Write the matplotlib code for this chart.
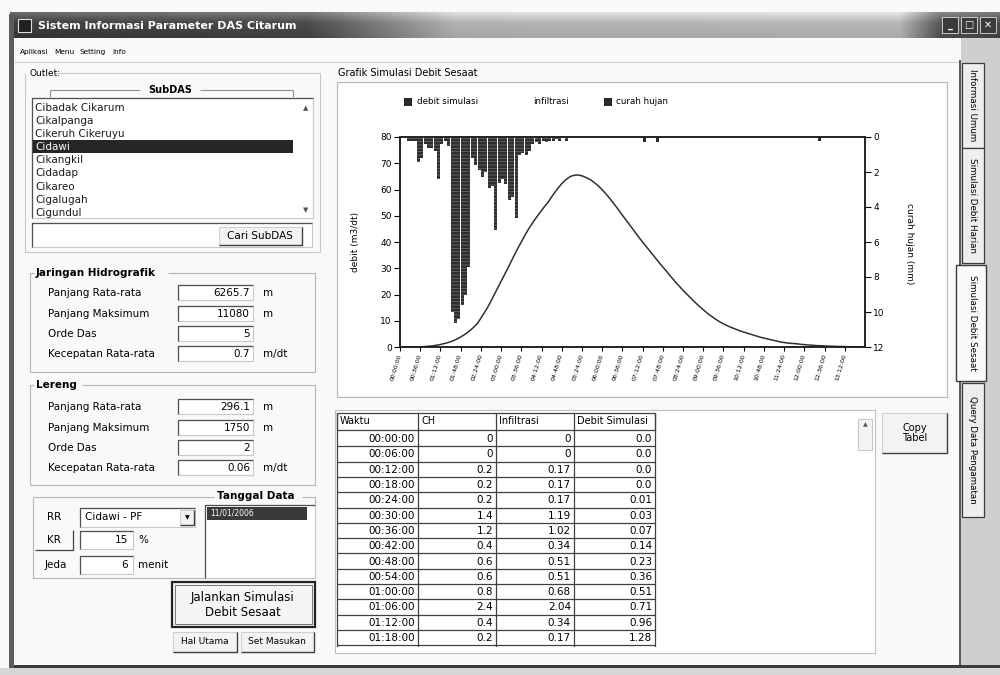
import numpy as np
import matplotlib
matplotlib.use("Agg")
import matplotlib.pyplot as plt
from matplotlib.patches import Rectangle

plt.rcParams["font.family"] = "DejaVu Sans"
W, H = 1000, 675

# ---- chart data: one value per 6-minute step ----
debit = [0.0, 0.0, 0.0, 0.0, 0.01, 0.03, 0.07, 0.14, 0.23, 0.36, 0.51, 0.71, 0.96, 1.28,
         1.6, 2.0, 2.5, 3.1, 3.8, 4.6, 5.5,
         6.5, 7.7, 9.0, 11.0, 13.0, 15.1, 17.5, 20.0, 22.5,
         25.0, 27.5, 30.0, 32.6, 35.2, 37.7, 40.0, 42.4, 44.6,
         46.6, 48.5, 50.3, 52.0, 53.7, 55.2,
         57.2, 59.0, 60.7, 62.2, 63.5, 64.5, 65.2, 65.5, 65.5, 65.2, 64.7,
         64.1, 63.3, 62.3, 61.2, 59.9, 58.5, 57.0, 55.4, 53.7, 52.0, 50.2,
         48.5, 46.8, 45.1, 43.3, 41.6, 40.0, 38.4, 36.8, 35.2, 33.6, 32.0,
         30.5, 29.0, 27.4, 25.9, 24.4, 23.0, 21.6, 20.3, 19.0, 17.7, 16.5,
         15.3, 14.2, 13.1, 12.1, 11.2, 10.3, 9.5, 8.8, 8.2, 7.6, 7.1,
         6.6, 6.1, 5.7, 5.3, 4.9, 4.5, 4.1, 3.7, 3.4, 3.1, 2.8,
         2.5, 2.2, 1.9, 1.7, 1.5, 1.4, 1.3, 1.2, 1.0, 0.9, 0.8,
         0.7, 0.6, 0.5, 0.5, 0.4, 0.35, 0.3, 0.25, 0.2, 0.2, 0.15, 0.1, 0.1, 0.1, 0.05, 0.05]

rain_mm = [0, 0, 0.2, 0.2, 0.2, 1.4, 1.2, 0.4, 0.6, 0.6, 0.8, 2.4, 0.4, 0.2,
           0.5, 10.0, 10.6, 10.4, 9.6, 9.0, 7.4,
           1.2, 1.6, 1.9, 2.3, 2.0, 2.9, 2.8, 5.3, 2.6,
           2.4, 2.7, 3.6, 3.4, 4.6, 1.0, 0.9, 1.0, 0.8, 0.4,
           0.3, 0.4, 0.2, 0.3, 0.2, 0.2, 0.1, 0.2, 0, 0.2]
late_rain_step = [72, 76, 124]
late_rain_mm = [0.3, 0.3, 0.2]

tick_labels = ["00:00:00", "00:36:00", "01:12:00", "01:48:00", "02:24:00", "03:00:00",
               "03:36:00", "04:12:00", "04:48:00", "05:24:00", "06:00:00", "06:36:00",
               "07:12:00", "07:48:00", "08:24:00", "09:00:00", "09:36:00", "10:12:00",
               "10:48:00", "11:24:00", "12:00:00", "12:36:00", "13:12:00"]

# ---- table ----
waktu = ["00:00:00", "00:06:00", "00:12:00", "00:18:00", "00:24:00", "00:30:00", "00:36:00",
         "00:42:00", "00:48:00", "00:54:00", "01:00:00", "01:06:00", "01:12:00", "01:18:00"]
ch = ["0", "0", "0.2", "0.2", "0.2", "1.4", "1.2", "0.4", "0.6", "0.6", "0.8", "2.4", "0.4", "0.2"]
infil = ["0", "0", "0.17", "0.17", "0.17", "1.19", "1.02", "0.34", "0.51", "0.51", "0.68",
         "2.04", "0.34", "0.17"]
debit_tab = ["0.0", "0.0", "0.0", "0.0", "0.01", "0.03", "0.07", "0.14", "0.23", "0.36",
             "0.51", "0.71", "0.96", "1.28"]

# ---- left panel ----
subdas = ["Cibadak Cikarum", "Cikalpanga", "Cikeruh Cikeruyu", "Cidawi", "Cikangkil",
          "Cidadap", "Cikareo", "Cigalugah", "Cigundul"]
param_labels = ["Panjang Rata-rata", "Panjang Maksimum", "Orde Das", "Kecepatan Rata-rata"]
jar_values = ["6265.7", "11080", "5", "0.7"]
ler_values = ["296.1", "1750", "2", "0.06"]
units = ["m", "m", "", "m/dt"]
tabs = ["Informasi Umum", "Simulasi Debit Harian", "Simulasi Debit Sesaat",
        "Query Data Pengamatan"]
menu = ["Aplikasi", "Menu", "Setting", "Info"]

fig = plt.figure(figsize=(10, 6.75), dpi=100)
fig.patch.set_facecolor("#f9f9f9")
g = fig.add_axes([0, 0, 1, 1])
g.set_xlim(0, W); g.set_ylim(H, 0); g.axis("off")


def rect(x0, y0, x1, y1, fc="none", ec="none", lw=0.8, z=1):
    g.add_patch(Rectangle((x0, y0), x1 - x0, y1 - y0, fc=fc, ec=ec, lw=lw, zorder=z))


def line(xs, ys, c="#b4b4b4", lw=0.8, z=2):
    g.plot(xs, ys, color=c, lw=lw, zorder=z, solid_capstyle="butt")


def text(x, y, s, size=7.5, ha="left", va="center", **kw):
    g.text(x, y, s, fontsize=size, ha=ha, va=va, zorder=5, **kw)


def sunken(x0, y0, x1, y1):
    rect(x0, y0, x1, y1, fc="white", ec="#c8c8c8", z=2)
    line([x0, x0, x1], [y1, y0, y0], c="#505050", lw=0.9, z=3)


def raised(x0, y0, x1, y1, fc="#f3f3f3"):
    rect(x0, y0, x1, y1, fc=fc, ec="#d0d0d0", z=2)
    line([x0, x1, x1], [y1, y1, y0], c="#404040", lw=1.0, z=3)


# window chrome
rect(961, 38, 1000, 668, fc="#cfcfcf", z=0)
rect(10, 665, 1000, 668, fc="#3c3c3c", z=3)
rect(0, 668, 1000, 675, fc="#d6d6d6", z=0)
rect(9, 14, 14, 668, fc="#5c5c5c", z=3)
prof = np.interp(np.linspace(0, 1, 400), [0, 0.3, 0.45, 0.9, 0.94, 1], [0.25, 0.3, 0.7, 0.72, 0.35, 0.3])
vert = np.interp(np.linspace(0, 1, 30), [0, 0.4, 1], [0.18, 0.0, -0.05])
grad = np.clip(prof[None, :] + vert[:, None], 0, 1)
g.imshow(grad, extent=(10, 1000, 38, 12), cmap="gray", vmin=0, vmax=1, aspect="auto", zorder=1)
rect(18, 19, 31, 32, fc="#202020", ec="#e0e0e0", lw=0.8, z=4)
text(38, 26, "Sistem Informasi Parameter DAS Citarum", size=8, color="white", weight="bold")
for bx, glyph in zip([942, 961, 980], ["_", "□", "✕"]):
    rect(bx, 17, bx + 16, 33, fc="#3a3a3a", ec="#dddddd", lw=0.6, z=4)
    text(bx + 8, 25, glyph, size=7, ha="center", color="white", weight="bold")
for mx, m in zip([20, 54, 80, 112], menu):
    text(mx, 52, m, size=5.3)
line([14, 960], [62, 62], c="#d0d0d0")
line([960, 960], [60, 665], c="#3c3c3c", lw=1.2, z=3)

# tabs on the right
tab_y = [(63, 148), (148, 263), (265, 381), (383, 517)]
for i, (name, (t0, t1)) in enumerate(zip(tabs, tab_y)):
    if i == 2:
        rect(956, t0, 986, t1, fc="#fafafa", ec="#3c3c3c", lw=1.0, z=4)
    else:
        rect(962, t0, 984, t1, fc="#eeeeee", ec="#3c3c3c", lw=0.9, z=4)
    text(973 if i != 2 else 972, (t0 + t1) / 2, name, size=6.3, ha="center", rotation=-90)

# Outlet group + SubDAS list
text(30, 73, "Outlet:", size=6.5)
line([55, 320, 320, 25, 25], [73, 73, 252, 252, 73], c="#c8c8c8")
line([50, 50, 140], [97, 90, 90], c="#909090")
line([200, 293, 293], [90, 90, 97], c="#909090")
text(170, 90, "SubDAS", size=7, ha="center", weight="bold")
sunken(32, 98, 313, 218)
rect(33, 140, 293, 153, fc="#262626", z=3)
for i, name in enumerate(subdas):
    text(35, 108 + 13.1 * i, name, size=7.5, color="white" if i == 3 else "#1a1a1a")
text(306, 108, "▲", size=5, ha="center", color="#555")
text(306, 210, "▼", size=5, ha="center", color="#555")
sunken(32, 223, 312, 247)
raised(219, 227, 302, 245)
text(260, 236, "Cari SubDAS", size=7.5, ha="center")


def param_group(y0, y1, title, tw, rows_y, values):
    line([30, 34], [y0, y0]); line([36 + tw, 315, 315, 30, 30], [y0, y0, y1, y1, y0])
    text(36, y0, title, size=7.5, weight="bold")
    for yy, lab, val, u in zip(rows_y, param_labels, values, units):
        text(48, yy, lab, size=7.5)
        sunken(178, yy - 8, 253, yy + 7)
        text(250, yy, val, size=7.5, ha="right")
        text(263, yy, u, size=7.5)


param_group(273, 372, "Jaringan Hidrografik", 132, [293, 314, 334, 354], jar_values)
param_group(385, 485, "Lereng", 46, [407, 428, 448, 468], ler_values)

# RR / KR / Jeda group
line([33, 214], [497, 497]); line([302, 315, 315, 33, 33], [497, 497, 578, 578, 497])
text(217, 496, "Tanggal Data", size=7.5, weight="bold")
text(47, 517, "RR", size=7.5)
sunken(80, 508, 195, 527)
text(85, 517, "Cidawi - PF", size=7.5)
raised(180, 510, 194, 525)
text(187, 518, "▼", size=4.5, ha="center")
line([35, 73, 73], [550, 550, 530], c="#404040", lw=0.9)
text(47, 540, "KR", size=7.5)
sunken(80, 531, 133, 549)
text(128, 540, "15", size=7.5, ha="right"); text(138, 540, "%", size=7.5)
text(45, 565, "Jeda", size=7.5)
sunken(80, 556, 133, 574)
text(128, 565, "6", size=7.5, ha="right"); text(138, 565, "menit", size=7.5)
sunken(205, 505, 315, 578)
rect(207, 507, 307, 520, fc="#3a3a3a", z=3)
text(210, 513.5, "11/01/2006", size=5.5, color="white")

rect(172, 582, 315, 627, fc="#f4f4f4", ec="#222222", lw=1.6, z=2)
rect(175, 585, 312, 624, fc="none", ec="#777777", lw=0.7, z=3)
text(243, 597, "Jalankan Simulasi", size=8.5, ha="center")
text(243, 612, "Debit Sesaat", size=8.5, ha="center")
raised(173, 632, 237, 652)
text(205, 642, "Hal Utama", size=6.5, ha="center")
raised(241, 632, 314, 652)
text(277, 642, "Set Masukan", size=6.5, ha="center")

# chart frame + legend
text(338, 73, "Grafik Simulasi Debit Sesaat", size=7)
line([337, 947, 947, 337, 337], [82, 82, 397, 397, 82], c="#b8b8b8")
rect(339, 84, 945, 395, fc="white", z=1)
rect(404, 98, 412, 106, fc="#2a2a2a", z=3)
text(417, 102, "debit simulasi", size=6.3)
text(533, 102, "infiltrasi", size=6.3)
rect(604, 98, 612, 106, fc="#2a2a2a", z=3)
text(616, 102, "curah hujan", size=6.3)

# table
rect(335, 410, 875, 653, fc="white", ec="#c0c0c0", z=1)
cols = [337, 418, 496, 574, 655]
heads = ["Waktu", "CH", "Infiltrasi", "Debit Simulasi"]
rect(cols[0], 413, cols[-1], 430, fc="white", ec="#404040", lw=0.9, z=2)
for c0, hname in zip(cols[:-1], heads):
    text(c0 + 3, 421.5, hname, size=7)
row_h = 15.3
for i, row in enumerate(zip(waktu, ch, infil, debit_tab)):
    top = 431 + row_h * i
    for j, val in enumerate(row):
        text(cols[j + 1] - 3, top + row_h / 2 + 0.5, val, size=7.5, ha="right")
    line([cols[0], cols[-1]], [top + row_h, top + row_h], c="#404040", lw=0.9)
for c0 in cols:
    line([c0, c0], [413, 650], c="#404040", lw=0.9)
rect(336, 647, 660, 652, fc="white", z=6)
raised(882, 413, 947, 453)
text(914.5, 433, "Copy\nTabel", size=7, ha="center", linespacing=1.1)
rect(858, 419, 872, 450, fc="#f4f4f4", ec="#c8c8c8", z=2)
text(865, 425, "▲", size=4.5, ha="center", color="#555")

# ---- the chart itself ----
ax = fig.add_axes([400 / W, 1 - 347 / H, 465 / W, 210 / H])
ax.set_facecolor("white")
ax.plot(np.arange(len(debit)), debit, color="#303030", lw=1.1)
ax.set_xlim(0, 138)
ax.set_ylim(0, 80)
ax.set_yticks(range(0, 81, 10))
ax.set_xticks(range(0, 133, 6))
ax.set_xticklabels(tick_labels, rotation=73, ha="right", va="center",
                   rotation_mode="anchor", fontsize=4.5)
ax.tick_params(axis="y", labelsize=6.5, length=4, width=0.8, pad=2)
ax.tick_params(axis="x", length=3, width=0.8, pad=2)
ax.set_ylabel("debit (m3/dt)", fontsize=6.5)
ax.yaxis.set_label_coords(-0.085, 0.5)

plt.rcParams["hatch.linewidth"] = 0.5
ax2 = ax.twinx()
ax2.bar(np.arange(len(rain_mm)), rain_mm, width=0.9, align="edge",
        color="#2e2e2e", edgecolor="#707070", linewidth=0, hatch="-----")
ax2.bar(late_rain_step, late_rain_mm, width=0.9, align="edge", color="#2e2e2e", linewidth=0)
ax2.set_ylim(12, 0)
ax2.set_yticks(range(0, 13, 2))
ax2.tick_params(axis="y", labelsize=6.5, length=4, width=0.8, pad=2)
ax2.set_ylabel("curah hujan (mm)", fontsize=6.5, rotation=270, va="bottom")
ax2.yaxis.set_label_coords(1.085, 0.49)
for a in (ax, ax2):
    for s in a.spines.values():
        s.set_linewidth(1.2)
        s.set_color("#222222")

fig.savefig("out.png", dpi=100, facecolor=fig.get_facecolor())
